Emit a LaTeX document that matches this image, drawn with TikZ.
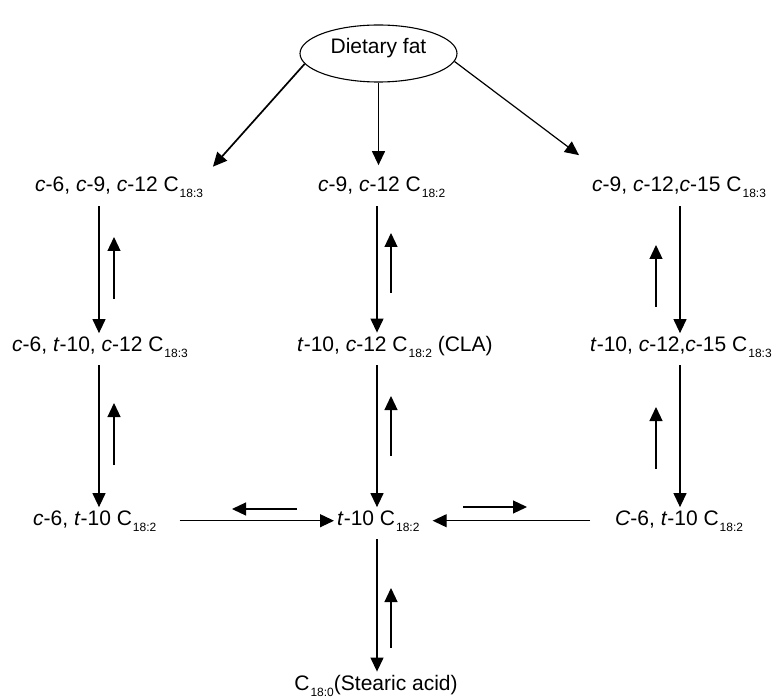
\documentclass[tikz,border=0pt]{standalone}
\usepackage{fontspec}
\setmainfont{Liberation Sans}
\usetikzlibrary{shapes.geometric,arrows.meta}
\newcommand{\chn}[1]{\hspace{1pt}\raisebox{-6pt}{\fontsize{12}{12}\selectfont #1}}
\tikzset{my label/.style={anchor=base west, inner sep=3pt},
         my arrow/.style={-{Triangle[length=14pt,width=13pt]}, line width=1.2pt},
         my ellipse/.style={draw, ellipse, line width=1.1pt, minimum width=157pt, minimum height=57pt, inner sep=0pt, text height=15pt, text depth=15pt},}

\begin{document}
\begin{tikzpicture}[x=1pt, y=-1pt, font=\fontsize{21}{25}\selectfont]
\useasboundingbox (0,0) rectangle (773,700);
\node [my ellipse] (fat) at (378.5, 53.5) {Dietary fat};
\node [my label] (r1a) at ( 32, 192) {\textit{c}-6, \textit{c}-9, \textit{c}-12 C\chn{18:3}};
\node [my label] (r1b) at (315, 192) {\textit{c}-9, \textit{c}-12 C\chn{18:2}};
\node [my label] (r1c) at (589, 192) {\textit{c}-9, \textit{c}-12,\textit{c}-15 C\chn{18:3}};
\node [my label] (r2a) at (  9, 351) {\textit{c}-6, \textit{t}-10, \textit{c}-12 C\chn{18:3}};
\node [my label] (r2b) at (294, 351) {\textit{t}-10, \textit{c}-12 C\chn{18:2} (CLA)};
\node [my label] (r2c) at (587, 351) {\textit{t}-10, \textit{c}-12,\textit{c}-15 C\chn{18:3}};
\node [my label] (r3a) at ( 30, 525) {\textit{c}-6, \textit{t}-10 C\chn{18:2}};
\node [my label] (r3b) at (334, 525) {\textit{t}-10 C\chn{18:2}};
\node [my label] (r3c) at (612, 525) {\textit{C}-6, \textit{t}-10 C\chn{18:2}};
\node [my label, anchor=base] (r4) at (376, 690) {C\chn{18:0}(Stearic acid)};

% from the diet
\draw [my arrow, line width=1.7pt, shorten >=10pt] (fat.188) -- (r1a.north east);
\draw [my arrow, shorten >=9pt] (fat.south) -- (fat.south |- r1b.north);
\draw [my arrow] (fat.354) -- ([xshift=-10pt,yshift=19pt]r1c.north west);

% left column
\draw [my arrow, shorten <=5pt] (99,0 |- r1a.south) -- (99,0 |- r2a.north);
\draw [my arrow] (114,299) -- (114,237);
\draw [my arrow, shorten <=5pt] (99,0 |- r2a.south) -- (99,0 |- r3a.north);
\draw [my arrow] (114,465) -- (114,403);

% middle column
\draw [my arrow, shorten <=5pt] (377,0 |- r1b.south) -- (377,0 |- r2b.north);
\draw [my arrow] (391,293) -- (391,233);
\draw [my arrow, shorten <=5pt] (377,0 |- r2b.south) -- (377,0 |- r3b.north);
\draw [my arrow] (391,456) -- (391,396);
\draw [my arrow, shorten <=5pt] (377,0 |- r3b.south) -- (377,0 |- r4.north);
\draw [my arrow] (391,648) -- (391,588);

% right column
\draw [my arrow, shorten <=5pt] (680,0 |- r1c.south) -- (680,0 |- r2c.north);
\draw [my arrow] (656,307) -- (656,245);
\draw [my arrow, shorten <=5pt] (680,0 |- r2c.south) -- (680,0 |- r3c.north);
\draw [my arrow] (656,469) -- (656,407);

% bottom row
\draw [my arrow, shorten <=20pt] (r3a.east) -- (r3b.west);
\draw [my arrow] (297,509) -- (232,509);
\draw [my arrow, shorten <=22pt, shorten >=10pt] (r3c.west) -- (r3b.east);
\draw [my arrow] (463,507) -- (527,507);
\end{tikzpicture}
\end{document}
